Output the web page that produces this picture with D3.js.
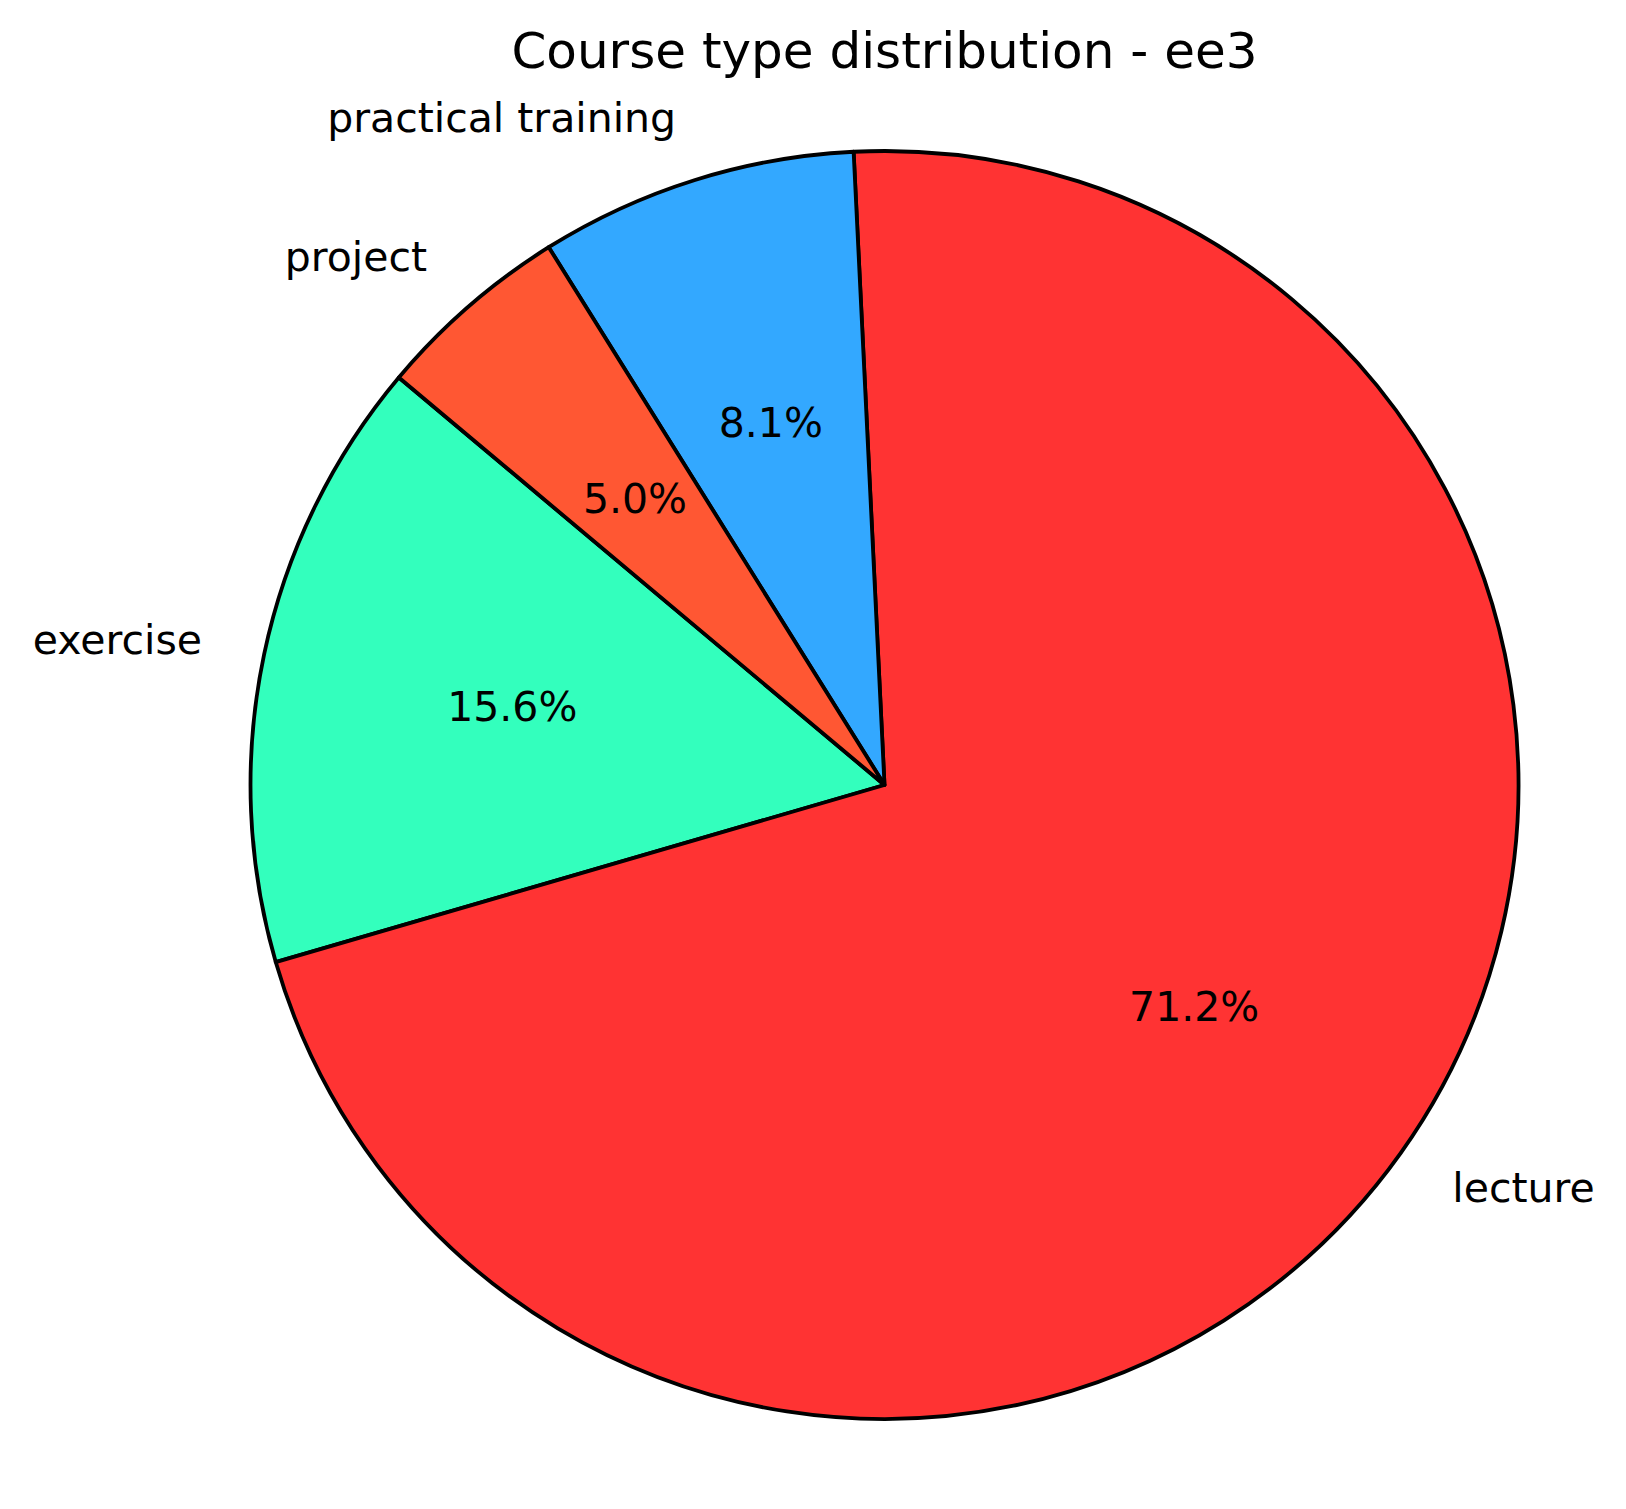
<!DOCTYPE html>
<html>
<head>
<meta charset="utf-8">
<script src="https://cdn.jsdelivr.net/npm/d3@7"></script>
<style>
  body { margin: 0; background: #fff; }
  text { font-family: "DejaVu Sans", sans-serif; fill: #000; }
</style>
</head>
<body>
<div id="chart"></div>
<script>
  var categories = ["exercise", "lecture", "practical training", "project"];
  var shares = [15.6, 71.2, 8.1, 5.0];
  var colors = ["#33FFBD", "#FF3333", "#33A8FF", "#FF5733"];
  var title = "Course type distribution - ee3";

  var width = 1626, height = 1509;
  var cx = 884.5, cy = 785, r = 634;

  var svg = d3.select("#chart").append("svg")
      .attr("width", width)
      .attr("height", height);

  svg.append("text")
      .attr("x", cx)
      .attr("y", 68)
      .attr("text-anchor", "middle")
      .attr("font-size", "50px")
      .text(title);

  var data = categories.map(function (c, i) { return {name: c, value: shares[i], color: colors[i]}; });

  // matplotlib startangle 140, counterclockwise -> d3 angles measured clockwise from 12 o'clock
  var start = (90 - 140) * Math.PI / 180;
  var pie = d3.pie()
      .sort(null)
      .value(function (d) { return d.value; })
      .startAngle(start)
      .endAngle(start - 2 * Math.PI);

  var arcs = pie(data);
  var arc = d3.arc().innerRadius(0).outerRadius(r);

  var g = svg.append("g")
      .attr("transform", "translate(" + cx + "," + cy + ")");

  g.selectAll(".slice")
      .data(arcs)
    .enter().append("path")
      .attr("class", "slice")
      .attr("d", arc)
      .attr("fill", function (d) { return d.data.color; })
      .attr("stroke", "#000")
      .attr("stroke-width", 3.8)
      .attr("stroke-linejoin", "round");

  function mid(d) { return (d.startAngle + d.endAngle) / 2; }

  g.selectAll(".label")
      .data(arcs)
    .enter().append("text")
      .attr("class", "label")
      .attr("x", function (d) { return 1.1 * r * Math.sin(mid(d)); })
      .attr("y", function (d) { return -1.1 * r * Math.cos(mid(d)); })
      .attr("dy", "0.3em")
      .attr("text-anchor", function (d) { return Math.sin(mid(d)) < 0 ? "end" : "start"; })
      .attr("font-size", "41px")
      .text(function (d) { return d.data.name; });

  g.selectAll(".pct")
      .data(arcs)
    .enter().append("text")
      .attr("class", "pct")
      .attr("x", function (d) { return 0.6 * r * Math.sin(mid(d)); })
      .attr("y", function (d) { return -0.6 * r * Math.cos(mid(d)); })
      .attr("dy", "0.36em")
      .attr("text-anchor", "middle")
      .attr("font-size", "41px")
      .text(function (d) { return d.data.value.toFixed(1) + "%"; });
</script>
</body>
</html>
